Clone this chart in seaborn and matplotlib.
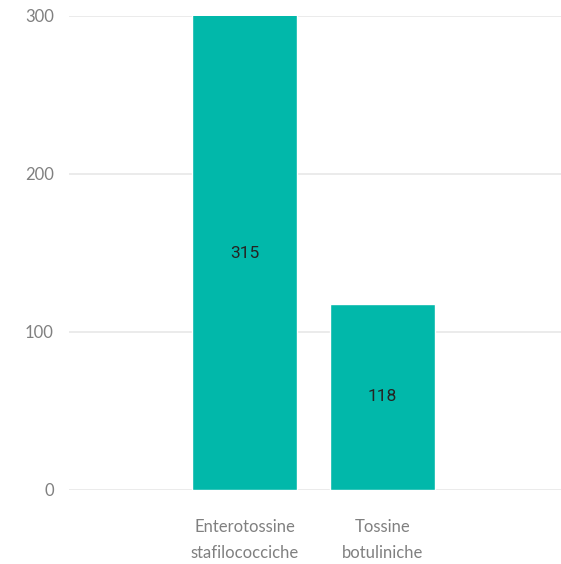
import matplotlib
matplotlib.use("Agg")
import matplotlib.pyplot as plt
import seaborn as sns
import pandas as pd

categories = ["Enterotossine\nstafilococciche", "Tossine\nbotuliniche"]
values = [315, 118]
y_ticks = [0, 100, 200, 300]

df = pd.DataFrame({"categoria": categories, "valore": values})

sns.set_theme(style="white")
plt.rcParams["font.family"] = ["Lato", "DejaVu Sans"]

fig = plt.figure(figsize=(5.61, 5.64), dpi=100)
ax = fig.add_axes([69 / 561, 1 - 490 / 564, 1 - 69 / 561, (490 - 16) / 564])

sns.barplot(data=df, x="categoria", y="valore", color="#01B8AA", saturation=1,
            width=0.76, ax=ax)

ax.set_ylim(0, 300)
ax.set_xlim(-1.272, 2.293)
ax.set_yticks(y_ticks)
ax.set_yticklabels([str(t) for t in y_ticks])
ax.yaxis.grid(True, color="#E8E8E8", linewidth=1.2)
ax.set_axisbelow(True)
for s in ax.spines.values():
    s.set_visible(False)
ax.set_xlabel("")
ax.set_ylabel("")
ax.tick_params(axis="y", length=0, pad=11, labelsize=12, labelcolor="#808080")
ax.tick_params(axis="x", length=0, pad=21, labelsize=12, labelcolor="#808080")
for lbl in ax.get_xticklabels():
    lbl.set_linespacing(1.75)

# value labels centered in the visible part of each bar
ylim_top = ax.get_ylim()[1]
for i, v in enumerate(values):
    mid = min(v, ylim_top) / 2
    ax.text(i, mid, str(v), ha="center", va="center", fontsize=12.5,
            color="#252423", family=["Roboto", "DejaVu Sans"])

fig.savefig("out.png", dpi=100)
